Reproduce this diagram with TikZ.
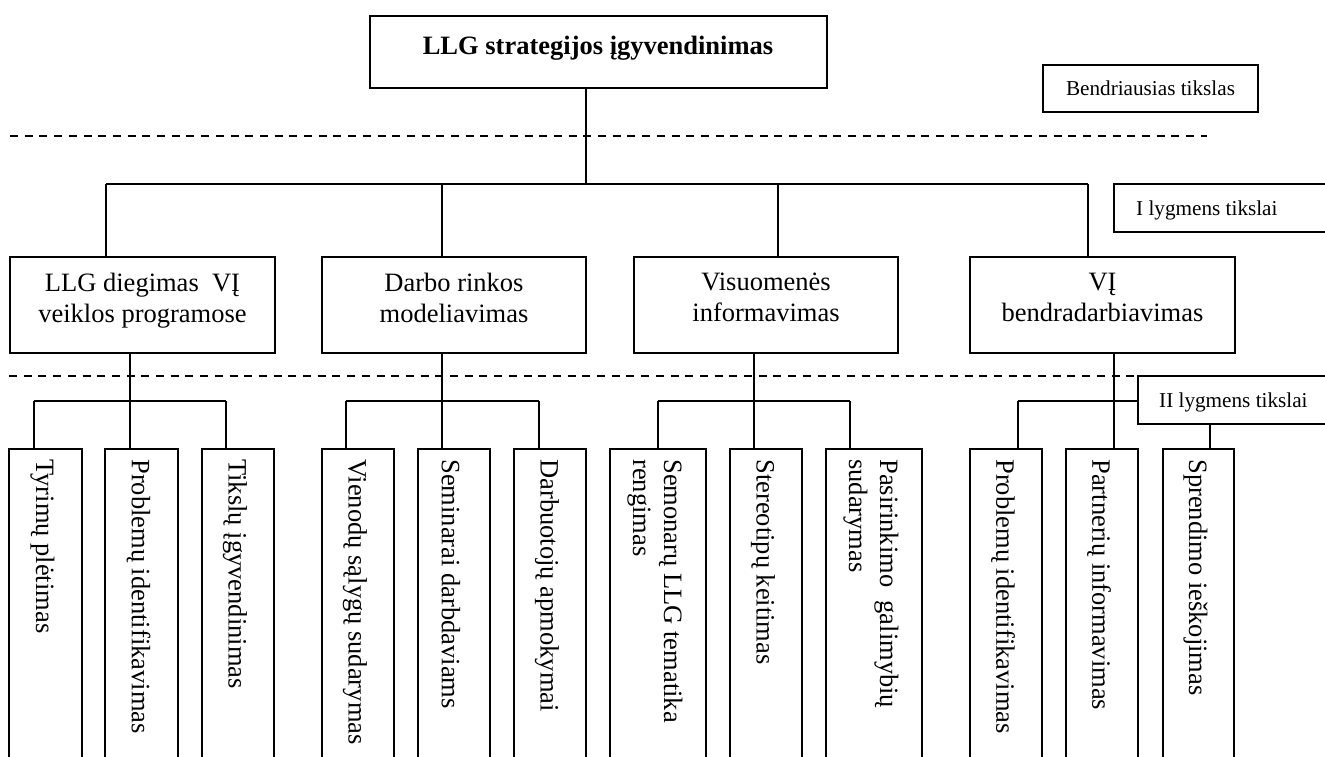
\documentclass[tikz,border=0pt]{standalone}
\usepackage{fontspec}
\setmainfont{Liberation Serif}
\usetikzlibrary{calc}

\tikzset{
  box/.style={draw, line width=1.8pt, inner sep=0pt, fill=white},
  lowbox/.style={box, minimum height=331pt},
  conn/.style={line width=1.5pt},
  levelsep/.style={line width=1.8pt, dash pattern=on 8pt off 6.7pt},
  maintext/.style={font=\fontsize{26.5}{31}\selectfont, inner sep=0pt, align=center},
  headtext/.style={font=\bfseries\fontsize{26.5}{31}\selectfont, inner sep=0pt},
  vtext/.style={font=\fontsize{26.5}{31}\selectfont, inner sep=0pt, rotate=-90, anchor=west, align=left},
  legtext/.style={font=\fontsize{21.2}{25}\selectfont, inner sep=0pt},
}

\begin{document}
\begin{tikzpicture}[x=1pt,y=-1pt]
\useasboundingbox (0,0) rectangle (1325,756);
\clip (0,0) rectangle (1325,756);

% level separators
\coordinate (s1a) at (10,136);  \coordinate (s1b) at (1207,136);
\coordinate (s2a) at (9,376);   \coordinate (s2b) at (1207,376);
\draw[levelsep] (s1a) -- (s1b);
\draw[levelsep] (s2a) -- (s2b);

% bus junctions
\coordinate (j0) at (586,184);
\coordinate (u1) at (106,184);
\coordinate (u2) at (442,184);
\coordinate (u3) at (778,184);
\coordinate (u4) at (1088,184);

\coordinate (g1a) at (34,401);   \coordinate (v1) at (130,401);  \coordinate (g1c) at (226,401);
\coordinate (g2a) at (346,401);  \coordinate (v2) at (442,401);  \coordinate (g2c) at (539,401);
\coordinate (g3a) at (658,401);  \coordinate (v3) at (754,401);  \coordinate (g3c) at (850,401);
\coordinate (g4a) at (1018,401); \coordinate (v4) at (1114,401); \coordinate (g4c) at (1210,401);

% boxes (placed first so connectors can refer to them)
\node[box, minimum width=457pt, minimum height=72pt] (top) at (598.5,52) {};

\node[box, minimum width=265pt, minimum height=96pt] (a1) at (142.5,305) {};
\node[box, minimum width=264pt, minimum height=96pt] (a2) at (454,305) {};
\node[box, minimum width=264pt, minimum height=96pt] (a3) at (766,305) {};
\node[box, minimum width=265pt, minimum height=96pt] (a4) at (1102.5,305) {};

\node[lowbox, minimum width=73pt] (b11) at (45.5,614.5) {};
\node[lowbox, minimum width=73pt] (b12) at (141.5,614.5) {};
\node[lowbox, minimum width=72pt] (b13) at (238,614.5) {};
\node[lowbox, minimum width=72pt] (b21) at (358,614.5) {};
\node[lowbox, minimum width=72pt] (b22) at (454,614.5) {};
\node[lowbox, minimum width=72pt] (b23) at (550,614.5) {};
\node[lowbox, minimum width=96pt] (b31) at (658,614.5) {};
\node[lowbox, minimum width=72pt] (b32) at (766,614.5) {};
\node[lowbox, minimum width=96pt] (b33) at (874,614.5) {};
\node[lowbox, minimum width=72pt] (b41) at (1006,614.5) {};
\node[lowbox, minimum width=72pt] (b42) at (1102,614.5) {};
\node[lowbox, minimum width=71pt] (b43) at (1198.5,614.5) {};

% connectors: goal to first-level goals
\draw[conn] (top.south -| j0) -- (j0);
\draw[conn] (u1) -- (u4);
\draw[conn] (u1) -- (a1.north -| u1);
\draw[conn] (u2) -- (a2.north -| u2);
\draw[conn] (u3) -- (a3.north -| u3);
\draw[conn] (u4) -- (a4.north -| u4);

% connectors: first-level to second-level goals
\draw[conn] (a1.south -| v1) -- (v1);
\draw[conn] (g1a) -- (g1c);
\draw[conn] (g1a) -- (b11.north -| g1a);
\draw[conn] (v1) -- (b12.north -| v1);
\draw[conn] (g1c) -- (b13.north -| g1c);

\draw[conn] (a2.south -| v2) -- (v2);
\draw[conn] (g2a) -- (g2c);
\draw[conn] (g2a) -- (b21.north -| g2a);
\draw[conn] (v2) -- (b22.north -| v2);
\draw[conn] (g2c) -- (b23.north -| g2c);

\draw[conn] (a3.south -| v3) -- (v3);
\draw[conn] (g3a) -- (g3c);
\draw[conn] (g3a) -- (b31.north -| g3a);
\draw[conn] (v3) -- (b32.north -| v3);
\draw[conn] (g3c) -- (b33.north -| g3c);

\draw[conn] (a4.south -| v4) -- (v4);
\draw[conn] (g4a) -- (g4c);
\draw[conn] (g4a) -- (b41.north -| g4a);
\draw[conn] (v4) -- (b42.north -| v4);
\draw[conn] (g4c) -- (b43.north -| g4c);

% legend boxes (white, drawn over the lines they overlap)
\node[box, minimum width=215pt, minimum height=47pt, legtext] (L0) at (1150.5,88.5) {Bendriausias tikslas};
\node[box, minimum width=221pt, minimum height=48pt] (L1) at (1224.5,208) {};
\node[box, minimum width=197pt, minimum height=48pt] (L2) at (1236.5,400) {};
\node[legtext, anchor=base west] (L1t) at (1136,215) {I lygmens tikslai};
\node[legtext, anchor=base west] (L2t) at (1159,407) {II lygmens tikslai};

% texts
\node[headtext, anchor=base] (topt) at (598,54) {LLG strategijos įgyvendinimas};

\node[maintext, anchor=north] (a1t) at ([yshift=-17pt]a1.north) {LLG diegimas\ \ VĮ\\veiklos programose};
\node[maintext, anchor=north] (a2t) at ([yshift=-17pt]a2.north) {Darbo rinkos\\modeliavimas};
\node[maintext, anchor=north] (a3t) at ([yshift=-17pt]a3.north) {Visuomenės\\informavimas};
\node[maintext, anchor=north] (a4t) at ([yshift=-17pt]a4.north) {VĮ\\bendradarbiavimas};

\node[vtext] (b11t) at ([xshift=-3pt,yshift=-11pt]b11.north) {Tyrimų plėtimas};
\node[vtext] (b12t) at ([xshift=-3pt,yshift=-11pt]b12.north) {Problemų identifikavimas};
\node[vtext] (b13t) at ([xshift=-3pt,yshift=-11pt]b13.north) {Tikslų įgyvendinimas};
\node[vtext] (b21t) at ([xshift=-3pt,yshift=-11pt]b21.north) {Vienodų sąlygų sudarymas};
\node[vtext] (b22t) at ([xshift=-3pt,yshift=-11pt]b22.north) {Seminarai darbdaviams};
\node[vtext] (b23t) at ([xshift=-3pt,yshift=-11pt]b23.north) {Darbuotojų apmokymai};
\node[vtext] (b31t) at ([xshift=-3pt,yshift=-11pt]b31.north) {Semonarų LLG tematika\\rengimas};
\node[vtext] (b32t) at ([xshift=-3pt,yshift=-11pt]b32.north) {Stereotipų keitimas};
\node[vtext] (b33t) at ([xshift=-3pt,yshift=-11pt]b33.north) {Pasirinkimo\ \ galimybių\\sudarymas};
\node[vtext] (b41t) at ([xshift=-3pt,yshift=-11pt]b41.north) {Problemų identifikavimas};
\node[vtext] (b42t) at ([xshift=-3pt,yshift=-11pt]b42.north) {Partnerių informavimas};
\node[vtext] (b43t) at ([xshift=-3pt,yshift=-11pt]b43.north) {Sprendimo ieškojimas};
\end{tikzpicture}
\end{document}
